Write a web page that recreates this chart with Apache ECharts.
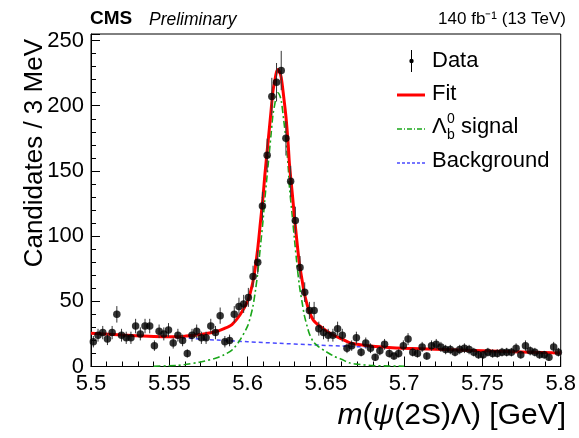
<!DOCTYPE html>
<html>
<head>
<meta charset="utf-8">
<script src="https://cdn.jsdelivr.net/npm/echarts@6/dist/echarts.min.js"></script>
<style>
html,body{margin:0;padding:0;background:#fff;}
#c{width:579px;height:438px;}
</style>
</head>
<body>
<div id="c"></div>
<script>
// Binning: 3 MeV bins from 5.5 to 5.8 GeV
const binStart = 5.5;
const binWidth = 0.003;
// Candidates per bin
const counts = [
  19, 24, 26, 21, 26, 40, 24, 22, 22, 31,
  25, 31, 31, 16, 27, 25, 28, 18, 24, 20,
  10, 24, 27, 22, 22, 31, 26, 39, 19, 20,
  40, 46, 48, 53, 69, 80, 123, 162, 207, 218,
  227, 175, 142, 112, 76, 57, 43, 43, 29, 26,
  24, 24, 29, 24, 14, 16, 22, 11, 18, 14,
  7, 12, 17, 10, 8, 10, 16, 21, 11, 10,
  15, 8, 16, 17, 15, 13, 13, 11, 13, 14,
  13, 11, 9, 9, 11, 10, 10, 11, 11, 11,
  14, 9, 16, 12, 11, 9, 9, 7, 15, 11
];
// Fit curve (total)
const fitX = [5.5, 5.52, 5.54, 5.555, 5.56, 5.57, 5.58, 5.585, 5.59, 5.595, 5.6, 5.6018, 5.6034, 5.605, 5.6066, 5.6082, 5.6098, 5.611, 5.613, 5.615, 5.6162, 5.6175, 5.6185, 5.6195, 5.6205, 5.6215, 5.623, 5.6246, 5.626, 5.6268, 5.6285, 5.63, 5.6315, 5.6331, 5.635, 5.6363, 5.638, 5.6395, 5.642, 5.645, 5.65, 5.655, 5.66, 5.665, 5.67, 5.68, 5.69, 5.7, 5.72, 5.74, 5.76, 5.78, 5.8];
const fitY = [25.5, 24.2, 23.1, 22.9, 23.3, 24.6, 26.8, 29.0, 32.2, 39.3, 50.0, 56.9, 64.8, 76.7, 91.6, 110.5, 129.4, 146.3, 171.2, 196.1, 211.0, 219.9, 225.9, 227.8, 225.8, 221.7, 207.6, 190.5, 169.4, 154.4, 133.3, 114.2, 96.1, 79.0, 64.9, 55.8, 47.7, 41.7, 35.6, 32.0, 27.7, 24.0, 21.2, 18.3, 17.1, 15.5, 14.6, 14.0, 13.2, 12.4, 11.7, 11.0, 10.3];
// Lambda_b signal component
const sigX = [5.54, 5.555, 5.56, 5.57, 5.58, 5.585, 5.59, 5.595, 5.6, 5.6018, 5.6034, 5.605, 5.6066, 5.6082, 5.6098, 5.611, 5.613, 5.615, 5.6162, 5.6175, 5.6185, 5.6195, 5.6205, 5.6215, 5.623, 5.6246, 5.626, 5.6268, 5.6285, 5.63, 5.6315, 5.6331, 5.635, 5.6363, 5.638, 5.6395, 5.642, 5.645, 5.65, 5.655, 5.66, 5.665, 5.67, 5.68, 5.69, 5.70];
const sigY = [0.2, 0.8, 1.5, 3.5, 6.5, 9.0, 12.5, 20, 31, 38, 46, 58, 73, 92, 111, 128, 153, 178, 193, 202, 208, 210, 208, 204, 190, 173, 152, 137, 116, 97, 79, 62, 48, 39, 31, 25, 19, 15.5, 11.5, 8, 5.5, 2.8, 1.8, 0.7, 0.4, 0.2];
// Background component
const bkgX = [5.5, 5.52, 5.54, 5.56, 5.58, 5.6, 5.62, 5.64, 5.66, 5.68, 5.7, 5.72, 5.74, 5.76, 5.78, 5.8];
const bkgY = [25.5, 24.2, 23.0, 21.8, 20.3, 19.0, 17.8, 16.7, 15.7, 14.8, 14.0, 13.2, 12.4, 11.7, 11.0, 10.3];
// Axis ticks
const xTicks = [5.5, 5.55, 5.6, 5.65, 5.7, 5.75, 5.8];
const yTicks = [0, 50, 100, 150, 200, 250];

const FONT = '"Liberation Sans", Arial, Helvetica, sans-serif';
const dataPts = counts.map((c, i) => [+(binStart + (i + 0.5) * binWidth).toFixed(4), c]);
const zip = (a, b) => a.map((v, i) => [v, b[i]]);

const chart = echarts.init(document.getElementById('c'), null, {renderer: 'canvas'});
chart.setOption({
  animation: false,
  backgroundColor: '#fff',
  grid: {left: 91, right: 17, top: 34, bottom: 71.5, show: true, borderColor: '#000', borderWidth: 1, backgroundColor: 'transparent'},
  xAxis: {
    type: 'value', min: xTicks[0], max: xTicks[xTicks.length - 1], interval: 0.05,
    axisLine: {show: true, lineStyle: {color: '#000', width: 1}},
    axisTick: {show: true, inside: true, length: 10, lineStyle: {color: '#000'}},
    minorTick: {show: true, splitNumber: 5, length: 5, lineStyle: {color: '#000'}},
    splitLine: {show: false},
    axisLabel: {color: '#000', fontSize: 22, fontFamily: FONT, margin: 6,
      formatter: v => { const m = xTicks.find(t => Math.abs(t - v) < 1e-6); return m === undefined ? '' : String(m); }}
  },
  yAxis: {
    type: 'value', min: 0, max: 255, interval: 50,
    axisLine: {show: true, lineStyle: {color: '#000', width: 1}},
    axisTick: {show: true, inside: true, length: 9, lineStyle: {color: '#000'}},
    minorTick: {show: true, splitNumber: 5, length: 5, lineStyle: {color: '#000'}},
    splitLine: {show: false},
    axisLabel: {color: '#000', fontSize: 22, fontFamily: FONT, margin: 7,
      formatter: v => (yTicks.indexOf(v) >= 0 ? String(v) : '')}
  },
  series: [
    {type: 'line', data: zip(bkgX, bkgY), smooth: 0.3, showSymbol: false, clip: true,
      lineStyle: {color: '#4a4aff', width: 1.5, type: [4, 3]}, z: 2},
    {type: 'line', data: zip(sigX, sigY), smooth: 0.3, showSymbol: false, clip: true,
      lineStyle: {color: '#19a619', width: 1.6, type: [7, 3, 2, 3]}, z: 3},
    {type: 'line', data: zip(fitX, fitY), smooth: 0.3, showSymbol: false, clip: true,
      lineStyle: {color: '#ff0000', width: 3}, z: 4},
    {type: 'custom', z: 5, clip: true,
      renderItem: (params, api) => {
        const x = api.value(0), y = api.value(1), e = Math.sqrt(y);
        const p1 = api.coord([x, y - e]), p2 = api.coord([x, y + e]);
        return {type: 'line', shape: {x1: p1[0], y1: p1[1], x2: p2[0], y2: p2[1]},
          style: {stroke: '#333', lineWidth: 1}};
      },
      data: dataPts},
    {type: 'scatter', data: dataPts, symbol: 'circle', symbolSize: 7.5,
      itemStyle: {color: '#000'}, z: 6}
  ],
  graphic: [
    {type: 'text', left: 90, top: 9, style: {text: 'CMS', font: 'bold 19px ' + FONT, fill: '#000'}},
    {type: 'text', left: 149, top: 11, style: {text: 'Preliminary', font: 'italic 17.5px ' + FONT, fill: '#000'}},
    {type: 'text', right: 13, top: 11, style: {text: '140 fb⁻¹ (13 TeV)', font: '17px ' + FONT, fill: '#000'}},
    // y-axis title
    {type: 'text', x: 35, y: 39, rotation: Math.PI / 2,
      style: {text: 'Candidates / 3 MeV', font: '26px ' + FONT, fill: '#000', textAlign: 'right', textVerticalAlign: 'middle'}},
    // x-axis title
    {type: 'text', x: 566, y: 416,
      style: {text: '{i|m}{n|(}{i|ψ}{n|(2S)Λ) [GeV]}', textAlign: 'right', textVerticalAlign: 'middle',
        rich: {i: {font: 'italic 30px ' + FONT, fill: '#000'}, n: {font: '30px ' + FONT, fill: '#000'}}}},
    // legend
    {type: 'line', shape: {x1: 411.5, y1: 50, x2: 411.5, y2: 72}, style: {stroke: '#000', lineWidth: 1}},
    {type: 'circle', shape: {cx: 411.5, cy: 61, r: 2.2}, style: {fill: '#000'}},
    {type: 'text', x: 432, y: 61, style: {text: 'Data', font: '22px ' + FONT, fill: '#000', textVerticalAlign: 'middle'}},
    {type: 'line', shape: {x1: 397, y1: 95, x2: 425, y2: 95}, style: {stroke: '#ff0000', lineWidth: 3}},
    {type: 'text', x: 432, y: 94, style: {text: 'Fit', font: '22px ' + FONT, fill: '#000', textVerticalAlign: 'middle'}},
    {type: 'line', shape: {x1: 397, y1: 129, x2: 425, y2: 129}, style: {stroke: '#19a619', lineWidth: 1.5, lineDash: [5, 2, 1, 2]}},
    {type: 'text', x: 432, y: 127, style: {text: 'Λ', font: '22px ' + FONT, fill: '#000', textVerticalAlign: 'middle'}},
    {type: 'text', x: 447, y: 119, style: {text: '0', font: '14px ' + FONT, fill: '#000', textVerticalAlign: 'middle'}},
    {type: 'text', x: 447, y: 135, style: {text: 'b', font: '14px ' + FONT, fill: '#000', textVerticalAlign: 'middle'}},
    {type: 'text', x: 461, y: 127, style: {text: 'signal', font: '22px ' + FONT, fill: '#000', textVerticalAlign: 'middle'}},
    {type: 'line', shape: {x1: 397, y1: 163, x2: 425, y2: 163}, style: {stroke: '#4a4aff', lineWidth: 1.3, lineDash: [3, 2]}},
    {type: 'text', x: 432, y: 161, style: {text: 'Background', font: '22px ' + FONT, fill: '#000', textVerticalAlign: 'middle'}}
  ]
});
</script>
</body>
</html>
